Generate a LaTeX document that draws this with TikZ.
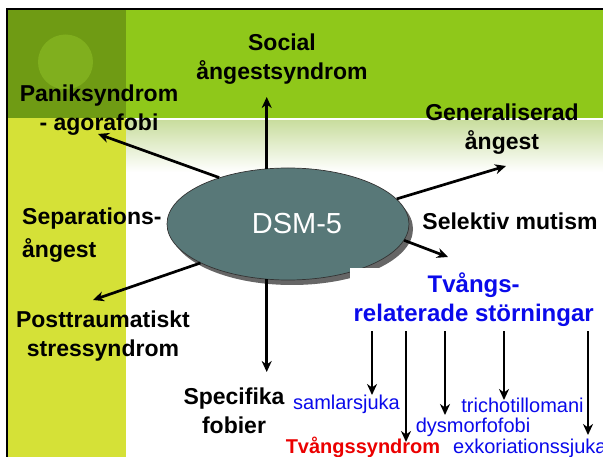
\documentclass[tikz,border=0pt]{standalone}
\usepackage{fontspec}
\setmainfont{Liberation Sans}
\usetikzlibrary{shapes.geometric,arrows.meta,shadows}
\definecolor{topgreen}{RGB}{143,200,26}
\definecolor{darkgreen}{RGB}{111,155,20}
\definecolor{circgreen}{RGB}{128,175,30}
\definecolor{leftyellow}{RGB}{213,225,55}
\definecolor{fadegreen}{RGB}{202,222,160}
\definecolor{dsmfill}{RGB}{88,120,120}
\definecolor{tblue}{RGB}{10,10,235}
\definecolor{tred}{RGB}{235,0,0}
\begin{document}
\begin{tikzpicture}[x=1pt,y=-1pt,
  lbl/.style={font=\fontsize{23}{29}\selectfont\bfseries, align=center, inner sep=0pt, text=black},
  sub/.style={font=\fontsize{20}{24}\selectfont, inner sep=0pt, text=tblue},
  arr/.style={line width=2.7pt, -{Stealth[length=11pt,width=10pt,inset=3.5pt]}}]
\useasboundingbox (0,0) rectangle (603,457);
% background
\fill[white] (0,0) rectangle (603,457);
\fill[topgreen] (8,10) rectangle (603,118);
\fill[darkgreen] (8,10) rectangle (126,118);
\fill[circgreen] (65.5,62) circle (27.5);
\fill[leftyellow] (8,118) rectangle (126,457);
\shade[top color=fadegreen, bottom color=white] (126,121) rectangle (603,172);
\draw[black, line width=2.2pt] (7,457) -- (7,9) -- (603,9);
% central ellipse
\node[ellipse, minimum width=242pt, minimum height=112pt, inner sep=0pt,
      fill=dsmfill, draw=black!80, line width=0.7pt,
      drop shadow={shadow xshift=4pt, shadow yshift=-5pt, opacity=0.6, fill=black},
      label={[text=white, font=\fontsize{29}{34}\selectfont, xshift=9pt]center:DSM-5}]
      (dsm) at (288,224) {};
% labels
\node[lbl] (social) at (282,59) {Social\\ångestsyndrom};
\node[lbl] (panik) at (99,110) {Paniksyndrom\\- agorafobi};
\node[lbl] (gen) at (502,129) {Generaliserad\\ångest};
\node[lbl, anchor=west, align=left, font=\fontsize{23}{33}\selectfont\bfseries] (sep) at (22,235) {Separations-\\ångest};
\node[lbl] (sel) at (510,221) {Selektiv mutism};
\node[lbl] (post) at (103,336) {Posttraumatiskt\\stressyndrom};
\node[lbl] (spec) at (234,411) {Specifika\\fobier};
\node[fill=white, anchor=north west, minimum width=247pt, minimum height=63pt, inner sep=0pt,
      text=tblue, font=\fontsize{24}{29}\selectfont\bfseries, align=center] (tv) at (350,268) {Tvångs-\\relaterade störningar};
% arrows from DSM-5
\coordinate (tSoc) at (267,97);
\coordinate (tPan) at (98,134);
\coordinate (tGen) at (506,166);
\coordinate (tTv) at (448,257);
\coordinate (tPost) at (93,300);
\coordinate (tSpec) at (267,372);
\draw[arr] (dsm.111) -- (dsm.111 |- tSoc);
\draw[arr] (dsm.146) -- (tPan);
\draw[arr] (dsm.13) -- (tGen);
\draw[arr] (dsm.-8) -- (tTv);
\draw[arr] (dsm.204) -- (tPost);
\draw[arr] (dsm.-111) -- (dsm.-111 |- tSpec);
% sub-items
\coordinate (t1) at (372,395);
\coordinate (t2) at (406,442);
\coordinate (t3) at (445,415);
\coordinate (t4) at (504,400);
\coordinate (t5) at (588,435);
\foreach \t in {t1,t2,t3,t4,t5} \draw[arr] (\t |- tv.south) -- (\t);
\node[sub] (saml) at (346.5,404) {samlarsjuka};
\node[sub] (trich) at (522.5,405) {trichotillomani};
\node[sub] (dysm) at (473,427) {dysmorfofobi};
\node[sub, anchor=west] (exk) at (453,448) {exkoriationssjuka};
\node[inner sep=0pt, text=tred, font=\fontsize{20}{24}\selectfont\bfseries] (tvs) at (363,447) {Tvångssyndrom};
\end{tikzpicture}
\end{document}
